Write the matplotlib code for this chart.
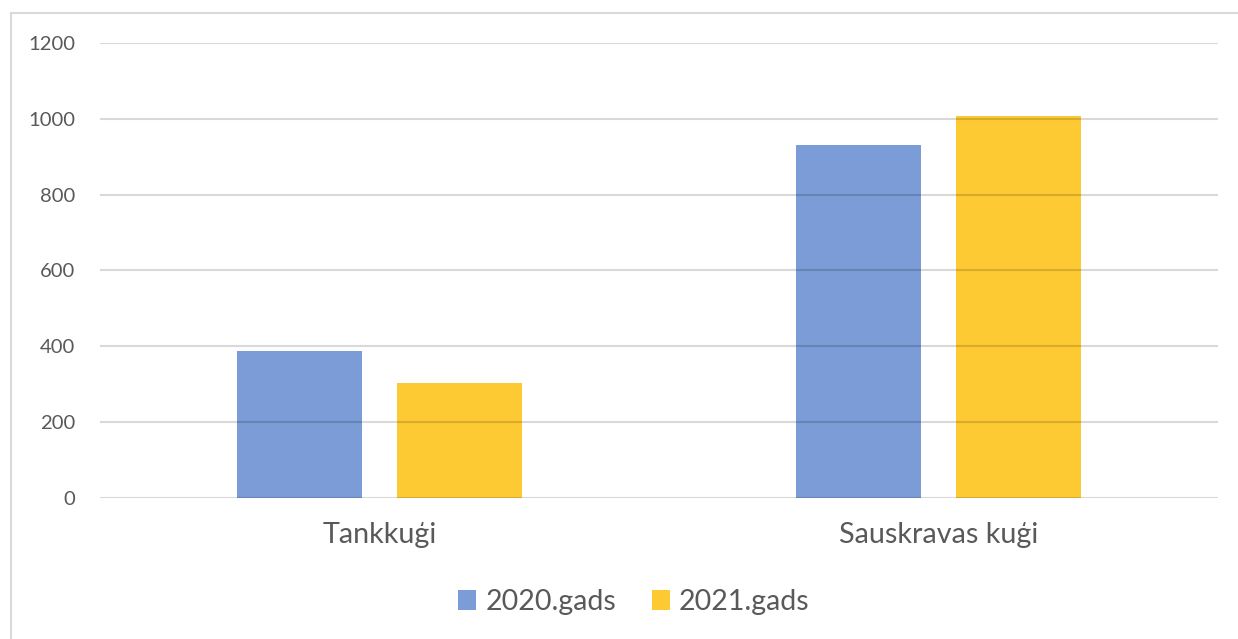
import matplotlib.pyplot as plt
from matplotlib.lines import Line2D
import numpy as np

categories = ['Tankkuģi', 'Sauskravas kuģi']
series_names = ['2020.gads', '2021.gads']
vals_2020 = [388, 931]
vals_2021 = [303, 1008]
colors = ['#7B9CD6', '#FDCA33']
yticks = [0, 200, 400, 600, 800, 1000, 1200]

plt.rcParams['font.family'] = ['Lato', 'DejaVu Sans']
txt = '#595959'

fig = plt.figure(figsize=(12.38, 6.39), dpi=100)
ax = fig.add_axes([0.0808, 0.2207, 0.9030, 0.7120])

x = np.arange(len(categories))
w = 0.225
b1 = ax.bar(x - 0.143, vals_2020, w, color=colors[0], zorder=2)
b2 = ax.bar(x + 0.143, vals_2021, w, color=colors[1], zorder=2)

ax.set_xlim(-0.5, 1.5)
ax.set_ylim(0, 1200)
ax.set_yticks(yticks)
ax.set_yticklabels([str(v) for v in yticks], fontsize=14.6, color=txt)
ax.set_xticks(x)
ax.set_xticklabels(categories, fontsize=20.7, color=txt)
ax.tick_params(axis='both', length=0)
ax.tick_params(axis='y', pad=18)
ax.tick_params(axis='x', pad=17)

# grid lines drawn over the bars, like the original
for v in yticks:
    ax.axhline(v, color='black', alpha=0.15, lw=1.5, zorder=3)
for s in ax.spines.values():
    s.set_visible(False)

fig.legend([b1, b2], series_names, loc='center', bbox_to_anchor=(634/1238, 1 - 602/639),
           ncol=2, frameon=False, fontsize=20.5, labelcolor=txt,
           handlelength=0.63, handleheight=0.67, handletextpad=0.32, columnspacing=1.26,
           borderpad=0, borderaxespad=0)

# chart frame (only top and left edges show in the crop)
fig.add_artist(Line2D([11/1238, 1.0], [1 - 13/639, 1 - 13/639], color='#D9D9D9', lw=1.5))
fig.add_artist(Line2D([11/1238, 11/1238], [0, 1 - 13/639], color='#D9D9D9', lw=1.5))

fig.savefig('out.png', dpi=100)
